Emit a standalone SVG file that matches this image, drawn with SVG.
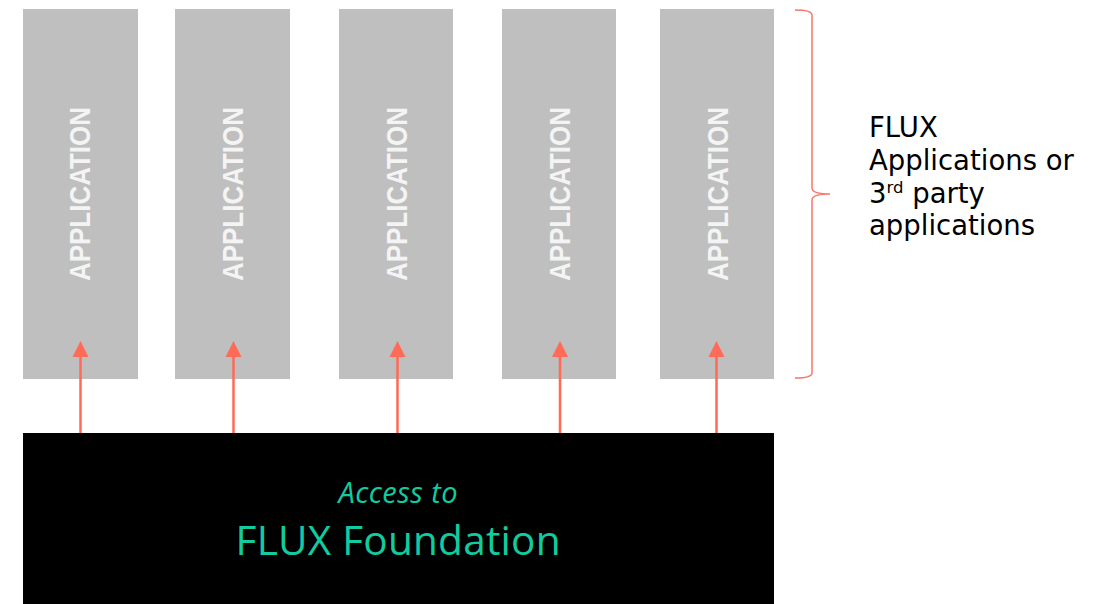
<svg xmlns="http://www.w3.org/2000/svg" width="1104" height="604" viewBox="0 0 1104 604">
  <style>
    .app rect { fill: #BFBFBF; }
    .app text { font-family: "Liberation Sans", Arial, sans-serif; font-weight: bold; font-size: 29px; fill: #F4F4F4; text-anchor: middle; }
    .conn line { stroke: #FF6B57; stroke-width: 2.5; }
    .conn polygon { fill: #FF6B57; }
    .side { font-family: "DejaVu Sans", Verdana, sans-serif; font-size: 27.5px; fill: #000; }
    .teal { font-family: "Open Sans", "Noto Sans", sans-serif; fill: #10CCA0; text-anchor: middle; }
  </style>
  <rect width="1104" height="604" fill="#FFFFFF"/>

  <g id="app1" class="app">
    <rect x="23" y="9" width="115" height="370"/>
    <text transform="translate(90,194) rotate(-90)" textLength="174" lengthAdjust="spacingAndGlyphs">APPLICATION</text>
  </g>
  <g id="app2" class="app">
    <rect x="175" y="9" width="115" height="370"/>
    <text transform="translate(243,194) rotate(-90)" textLength="174" lengthAdjust="spacingAndGlyphs">APPLICATION</text>
  </g>
  <g id="app3" class="app">
    <rect x="339" y="9" width="114" height="370"/>
    <text transform="translate(407,194) rotate(-90)" textLength="174" lengthAdjust="spacingAndGlyphs">APPLICATION</text>
  </g>
  <g id="app4" class="app">
    <rect x="502" y="9" width="114" height="370"/>
    <text transform="translate(570,194) rotate(-90)" textLength="174" lengthAdjust="spacingAndGlyphs">APPLICATION</text>
  </g>
  <g id="app5" class="app">
    <rect x="660" y="9" width="114" height="370"/>
    <text transform="translate(728,194) rotate(-90)" textLength="174" lengthAdjust="spacingAndGlyphs">APPLICATION</text>
  </g>

  <g id="foundation">
    <rect x="23" y="433" width="751" height="171" fill="#000000"/>
    <text class="teal" x="398" y="503" font-size="29" font-style="italic" textLength="119">Access to</text>
    <text class="teal" x="398" y="555" font-size="40.5" textLength="325">FLUX Foundation</text>
  </g>

  <g id="connectors" class="conn">
    <line x1="80.5" y1="433" x2="80.5" y2="355"/>
    <polygon points="80.5,341 72.5,357 88.5,357"/>
    <line x1="233.5" y1="433" x2="233.5" y2="355"/>
    <polygon points="233.5,341 225.5,357 241.5,357"/>
    <line x1="397.5" y1="433" x2="397.5" y2="355"/>
    <polygon points="397.5,341 389.5,357 405.5,357"/>
    <line x1="560" y1="433" x2="560" y2="355"/>
    <polygon points="560,341 552,357 568,357"/>
    <line x1="716.5" y1="433" x2="716.5" y2="355"/>
    <polygon points="716.5,341 708.5,357 724.5,357"/>
  </g>

  <g id="brace-label">
    <path d="M795,10 Q812,10 812,15 L812,188 Q812,194 830,194 Q812,194 812,200 L812,373 Q812,378 795,378" fill="none" stroke="#F8766A" stroke-width="1.5"/>
    <text class="side" x="869" y="137">FLUX</text>
    <text class="side" x="869" y="170">Applications or</text>
    <text class="side" x="869" y="202.5">3<tspan font-size="16.5" dy="-10">rd</tspan><tspan dy="10"> party</tspan></text>
    <text class="side" x="869" y="235">applications</text>
  </g>
</svg>
